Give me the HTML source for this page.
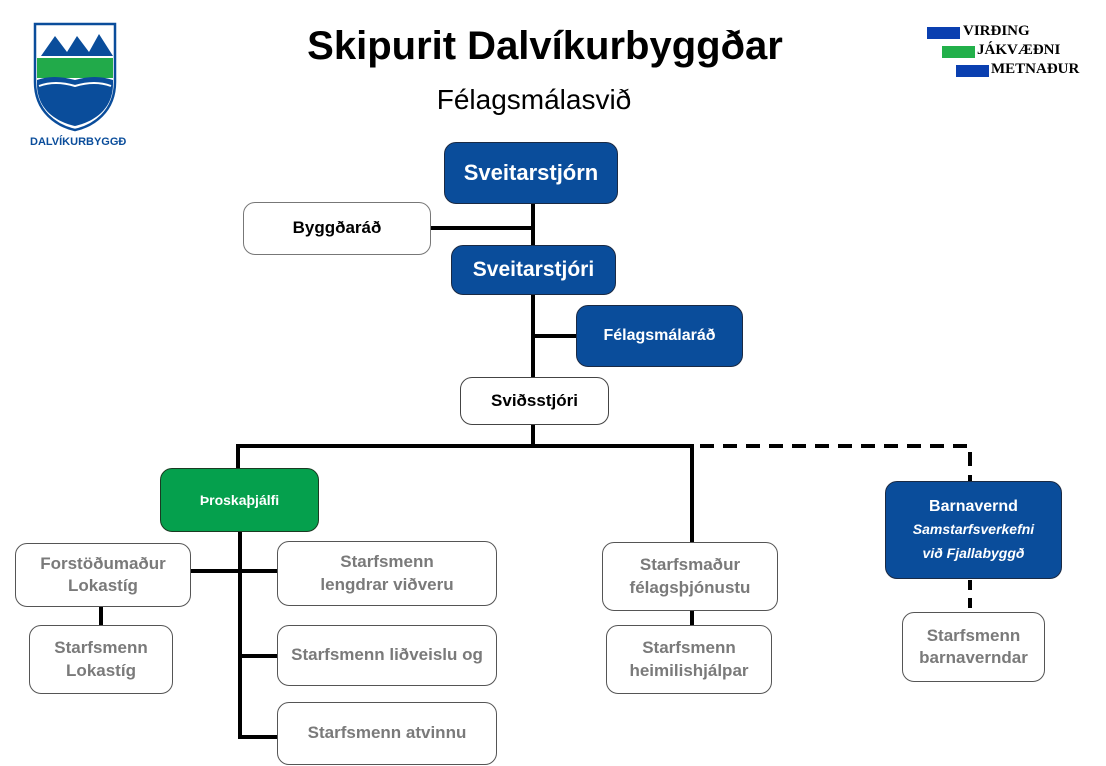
<!DOCTYPE html>
<html><head><meta charset="utf-8"><style>
body{margin:0;width:1106px;height:766px;background:#fff;position:relative;overflow:hidden;font-family:"Liberation Sans","DejaVu Sans",sans-serif;}
.b{position:absolute;box-sizing:border-box;border-radius:12px;display:flex;align-items:center;justify-content:center;text-align:center;font-weight:bold;line-height:1.3;}
.blue{background:#0a4d9b;color:#fff;border:1.5px solid #1a2a44;}
.w{background:#fff;color:#000;border:1.5px solid #444;}
.g{background:#fff;color:#7a7a7a;border:1.5px solid #555;font-size:17px;}
.l{position:absolute;background:#000;}
.t{position:absolute;font-weight:bold;}
</style></head><body>
<svg style="position:absolute;left:33px;top:22px" width="84" height="110" viewBox="0 0 84 110">
<path d="M2 2 H82 V60 C82 90 60 104 42 108 C24 104 2 90 2 60 Z" fill="#fff" stroke="#0a4d9b" stroke-width="2.5"/>
<polygon points="8,34 22,14 34,30 44,14 56,30 66,12 80,34" fill="#0a4d9b"/>
<rect x="4" y="36" width="76" height="20" fill="#22aa4a"/>
<path d="M4 58 Q20 52 42 58 Q62 52 80 58 V62 C80 88 60 100 42 104 C24 100 4 88 4 62 Z" fill="#0a4d9b"/>
<path d="M6 64 Q22 58 42 64 Q62 58 78 64" stroke="#fff" stroke-width="2" fill="none"/>
</svg>
<div class="t" style="left:30px;top:136px;font-size:11px;color:#0a4d9b;">DALVÍKURBYGGÐ</div>
<div class="t" style="left:250px;top:24px;width:590px;text-align:center;font-size:40px;">Skipurit Dalvíkurbyggðar</div>
<div style="position:absolute;left:384px;top:84px;width:300px;text-align:center;font-size:28px;">Félagsmálasvið</div>
<div style="position:absolute;left:927px;top:27px;width:33px;height:12px;background:#0a3fb0"></div>
<div class="t" style="left:963px;top:23px;font-size:15px;font-family:'Liberation Serif',serif;">VIRÐING</div>
<div style="position:absolute;left:942px;top:46px;width:33px;height:12px;background:#22b04a"></div>
<div class="t" style="left:977px;top:42px;font-size:15px;font-family:'Liberation Serif',serif;">JÁKVÆÐNI</div>
<div style="position:absolute;left:956px;top:65px;width:33px;height:12px;background:#0a3fb0"></div>
<div class="t" style="left:991px;top:61px;font-size:15px;font-family:'Liberation Serif',serif;">METNAÐUR</div>

<div class="l" style="left:531px;top:204px;width:4px;height:174px"></div>
<div class="l" style="left:431px;top:226px;width:102px;height:4px"></div>
<div class="l" style="left:533px;top:334px;width:44px;height:4px"></div>
<div class="l" style="left:531px;top:424px;width:4px;height:22px"></div>
<div class="l" style="left:236px;top:444px;width:458px;height:4px"></div>
<div class="l" style="left:236px;top:444px;width:4px;height:25px"></div>
<div class="l" style="left:690px;top:444px;width:4px;height:99px"></div>
<div class="l" style="left:690px;top:610px;width:4px;height:16px"></div>
<div class="l" style="left:238px;top:531px;width:4px;height:208px"></div>
<div class="l" style="left:191px;top:569px;width:87px;height:4px"></div>
<div class="l" style="left:99px;top:606px;width:4px;height:20px"></div>
<div class="l" style="left:240px;top:654px;width:38px;height:4px"></div>
<div class="l" style="left:240px;top:735px;width:38px;height:4px"></div>
<svg style="position:absolute;left:0;top:0" width="1106" height="766"><path d="M700 446 H970 V481" stroke="#000" stroke-width="4" fill="none" stroke-dasharray="14,9"/><path d="M970 580 V612" stroke="#000" stroke-width="4" fill="none" stroke-dasharray="10,8"/></svg>

<div class="b blue" style="left:444px;top:142px;width:174px;height:62px;font-size:22px">Sveitarstjórn</div>
<div class="b w" style="left:243px;top:202px;width:188px;height:53px;font-size:17px;border-color:#777">Byggðaráð</div>
<div class="b blue" style="left:451px;top:245px;width:165px;height:50px;font-size:21px">Sveitarstjóri</div>
<div class="b blue" style="left:576px;top:305px;width:167px;height:62px;font-size:16px">Félagsmálaráð</div>
<div class="b w" style="left:460px;top:377px;width:149px;height:48px;font-size:17px">Sviðsstjóri</div>
<div class="b" style="left:160px;top:468px;width:159px;height:64px;font-size:14px;background:#05a04d;color:#fff;border:1.5px solid #1a3a22">Þroskaþjálfi</div>
<div class="b g" style="left:15px;top:543px;width:176px;height:64px">Forstöðumaður<br>Lokastíg</div>
<div class="b g" style="left:29px;top:625px;width:144px;height:69px">Starfsmenn<br>Lokastíg</div>
<div class="b g" style="left:277px;top:541px;width:220px;height:65px">Starfsmenn<br>lengdrar viðveru</div>
<div class="b g" style="left:277px;top:625px;width:220px;height:61px">Starfsmenn liðveislu og</div>
<div class="b g" style="left:277px;top:702px;width:220px;height:63px">Starfsmenn atvinnu</div>
<div class="b g" style="left:602px;top:542px;width:176px;height:69px">Starfsmaður<br>félagsþjónustu</div>
<div class="b g" style="left:606px;top:625px;width:166px;height:69px">Starfsmenn<br>heimilishjálpar</div>
<div class="b blue" style="left:885px;top:481px;width:177px;height:98px;font-size:16px;line-height:1.45"><div>Barnavernd<br><i style="font-size:14px">Samstarfsverkefni<br>við Fjallabyggð</i></div></div>
<div class="b g" style="left:902px;top:612px;width:143px;height:70px">Starfsmenn<br>barnaverndar</div>
</body></html>
